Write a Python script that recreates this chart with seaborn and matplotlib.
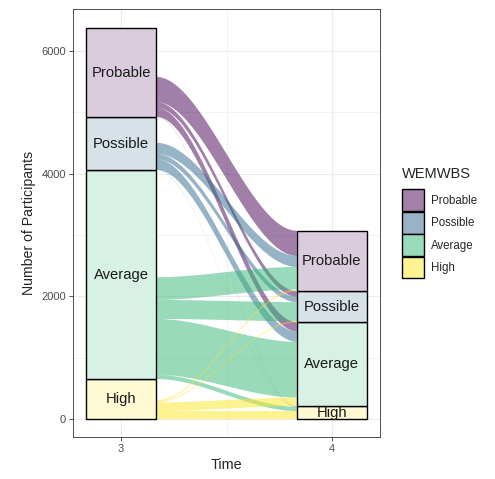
import numpy as np
import pandas as pd
import matplotlib
matplotlib.use("Agg")
import matplotlib.pyplot as plt
from matplotlib.patches import Patch, Polygon
import matplotlib.colors as mcolors
import seaborn as sns

# WEMWBS categories, listed top to bottom in each stratum column
categories = ["Probable", "Possible", "Average", "High"]
times = [3, 4]
# participants in each category at time 3 (includes those not seen at time 4)
time3_counts = [1452, 864, 3407, 652]
# flows[i][j]: category i at time 3 -> category j at time 4
flows = [
    [410, 90, 150, 5],
    [180, 90, 170, 5],
    [370, 310, 910, 70],
    [24, 16, 140, 130],
]
y_ticks = [0, 2000, 4000, 6000]
x_ticks = [3, 4]

sns.set_style("white")
plt.rcParams["font.family"] = ["Liberation Sans", "DejaVu Sans"]

base_colors = ["#440154", "#31688E", "#35B779", "#FDE725"]


def blend(c, a):
    r = np.array(mcolors.to_rgb(c))
    return tuple(a * r + (1 - a) * np.ones(3))


flow_pal = {c: blend(col, 0.5) for c, col in zip(categories, base_colors)}
stratum_pal = {c: blend(col, 0.2) for c, col in zip(categories, base_colors)}

flow_arr = np.array(flows, dtype=float)
time4_counts = flow_arr.sum(axis=0)
counts_by_time = {3: np.array(time3_counts, float), 4: time4_counts}

strata = pd.DataFrame({
    "time": np.repeat(times, len(categories)),
    "category": categories * len(times),
    "count": np.concatenate([counts_by_time[t] for t in times]),
})

fig = plt.figure(figsize=(4.95, 4.79), dpi=100)
ax = fig.add_axes([73 / 495, 42 / 479, 307 / 495, 428 / 479])

# stacked strata
sns.histplot(data=strata, x="time", weights="count", hue="category",
             hue_order=categories, multiple="stack", discrete=True,
             shrink=1 / 3, palette=stratum_pal, alpha=1.0,
             edgecolor="black", linewidth=1.0, legend=False, ax=ax, zorder=3)


def bottoms(counts):
    # High at the bottom, Probable on top
    b = np.zeros(len(counts))
    acc = 0.0
    for k in range(len(counts) - 1, -1, -1):
        b[k] = acc
        acc += counts[k]
    return b


b3 = bottoms(counts_by_time[3])
b4 = bottoms(counts_by_time[4])
half = 1 / 6
x0, x1 = times[0] + half, times[1] - half
t = np.linspace(0, 1, 120)
s = 3 * t ** 2 - 2 * t ** 3
xs = x0 + (x1 - x0) * t
n = len(categories)
for i in range(n):
    for j in range(n):
        v = flow_arr[i, j]
        if v <= 0:
            continue
        lo3 = b3[i] + flow_arr[i, j + 1:].sum()
        lo4 = b4[j] + flow_arr[i + 1:, j].sum()
        lower = lo3 + (lo4 - lo3) * s
        upper = lower + v
        pts = np.concatenate([np.column_stack([xs, upper]),
                              np.column_stack([xs[::-1], lower[::-1]])])
        ax.add_patch(Polygon(pts, closed=True, facecolor=base_colors[i],
                             alpha=0.5, edgecolor="none", zorder=2))

# stratum labels
for tm, b in ((3, b3), (4, b4)):
    c = counts_by_time[tm]
    for k, cat in enumerate(categories):
        ax.text(tm, b[k] + c[k] / 2, cat, ha="center", va="center",
                fontsize=10.6, color="#1a1a1a", zorder=4)

ax.set_xlim(2.772, 4.228)
ax.set_ylim(-293, 6685)
ax.set_xticks(x_ticks)
ax.set_xticklabels([str(v) for v in x_ticks])
ax.set_yticks(y_ticks)
ax.set_xticks([3.5], minor=True)
ax.set_yticks([1000, 3000, 5000], minor=True)
ax.grid(True, which="major", color="#EBEBEB", linewidth=0.8, zorder=0)
ax.grid(True, which="minor", color="#EBEBEB", linewidth=0.4, zorder=0)
ax.set_axisbelow(True)
ax.tick_params(axis="both", which="major", length=3.2, width=0.6,
               color="#333333", labelsize=8.0, labelcolor="#4D4D4D", pad=2,
               left=True, bottom=True)
ax.tick_params(axis="both", which="minor", length=0)
for sp in ax.spines.values():
    sp.set_color("#333333")
    sp.set_linewidth(0.6)
ax.set_xlabel("Time", fontsize=10.4, labelpad=3)
ax.set_ylabel("Number of Participants", fontsize=10.2, labelpad=4)

handles = [Patch(facecolor=flow_pal[c], edgecolor="black", linewidth=1.0)
           for c in categories]
leg = fig.legend(handles, categories, title="WEMWBS", loc="upper left",
                 bbox_to_anchor=(402 / 495, (479 - 167) / 479), frameon=False,
                 fontsize=8.3, title_fontsize=10.5, handlelength=1.9,
                 handleheight=2.55, handletextpad=0.65, labelspacing=0.04,
                 borderpad=0, borderaxespad=0)
leg._legend_box.align = "left"
leg._legend_box.sep = 6

fig.savefig("out.png", dpi=100)
